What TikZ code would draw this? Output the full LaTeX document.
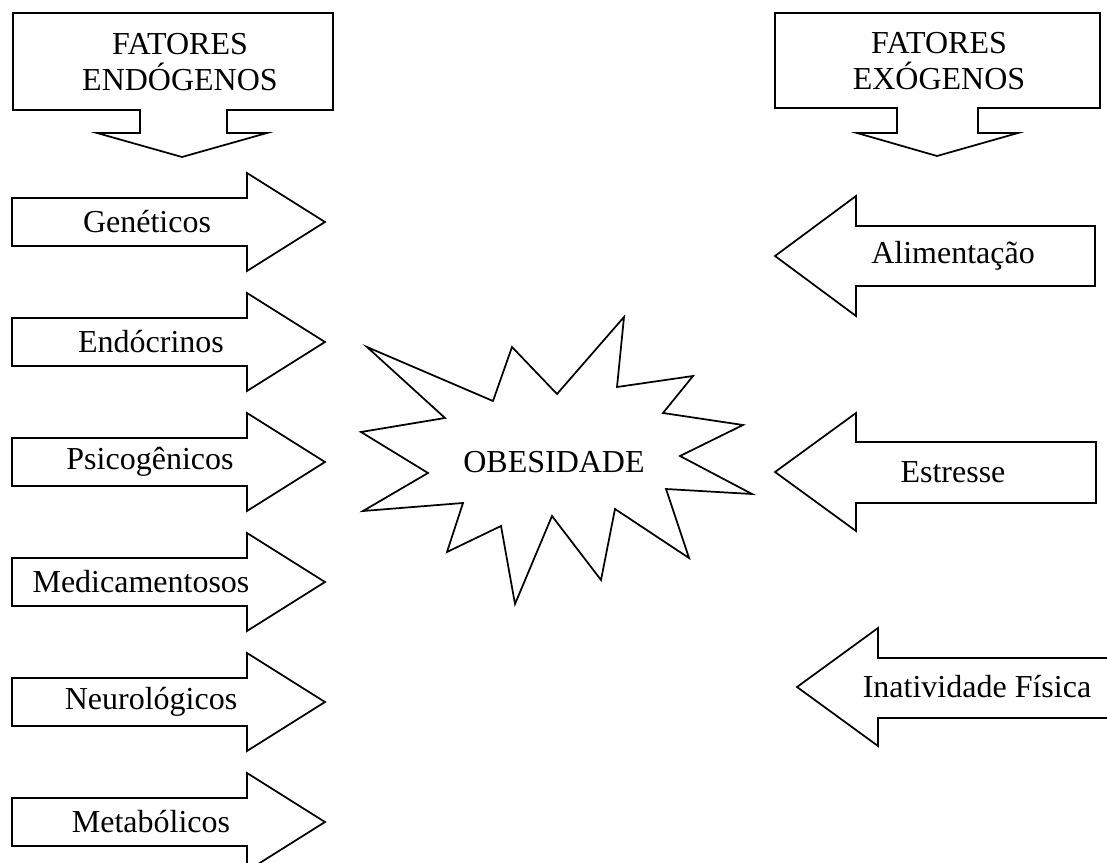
\documentclass[tikz,border=0pt]{standalone}
\usepackage{fontspec}
\setmainfont{Liberation Serif}
\usepackage{tikz}

\begin{document}
\begin{tikzpicture}[
  x=0.75pt, y=-0.75pt,
  outline/.style={draw=black, line width=1.3pt, line join=miter, fill=white},
  txt/.style={font=\fontsize{24}{27}\selectfont, align=center, inner sep=0pt}
]
\clip (0,0) rectangle (1107,863);
% callouts on top
\draw[outline] (13,13) -- (333,13) -- (333,110) -- (227,110) -- (227,133) -- (267,133)
  -- (182,157) -- (97,133) -- (140,133) -- (140,110) -- (13,110) -- cycle;
\node[txt] (endo) at (180,62) {FATORES\\ENDÓGENOS};
\draw[outline] (775,13) -- (1100,13) -- (1100,108) -- (978,108) -- (978,133) -- (1018,133)
  -- (937,156) -- (857,133) -- (897,133) -- (897,108) -- (775,108) -- cycle;
\node[txt] (exo) at (939,61) {FATORES\\EXÓGENOS};
% endogenous factors
\foreach \name/\lbl/\tx [count=\i] in {gen/Genéticos/147, endoc/Endócrinos/151,
    psico/Psicogênicos/150, medic/Medicamentosos/141, neuro/Neurológicos/151,
    metab/Metabólicos/151} {
  \pgfmathsetmacro\c{222+120*(\i-1)}
  \draw[outline] (12,\c-24) -- (247,\c-24) -- (247,\c-49) -- (325,\c) -- (247,\c+49)
    -- (247,\c+24) -- (12,\c+24) -- cycle;
  \node[txt] (\name) at (\tx,\c) {\lbl};
}
% exogenous factors
\draw[outline] (1095,226) -- (856,226) -- (856,196) -- (775,256) -- (856,316) -- (856,286)
  -- (1095,286) -- cycle;
\node[txt] (alim) at (953,256) {Alimentação};
\draw[outline] (1096,442) -- (856,442) -- (856,413) -- (775,472) -- (856,531) -- (856,503)
  -- (1096,503) -- cycle;
\node[txt] (stress) at (953,472) {Estresse};
\draw[outline] (1120,658) -- (878,658) -- (878,628) -- (797,687) -- (878,746) -- (878,718)
  -- (1120,718);
\node[txt] (inat) at (977,687) {Inatividade Física};
% starburst
\draw[outline] (367,347) -- (493,401) -- (512,347) -- (557,394) -- (624,317) -- (617,387)
  -- (693,376) -- (663,413) -- (743,425) -- (680,456) -- (752,494) -- (666,489)
  -- (689,558) -- (615,509) -- (601,580) -- (552,516) -- (515,604) -- (501,526)
  -- (447,552) -- (463,503) -- (363,511) -- (428,473) -- (361,432) -- (445,418) -- cycle;
\node[txt] (obes) at (554,462) {OBESIDADE};
\end{tikzpicture}
\end{document}
